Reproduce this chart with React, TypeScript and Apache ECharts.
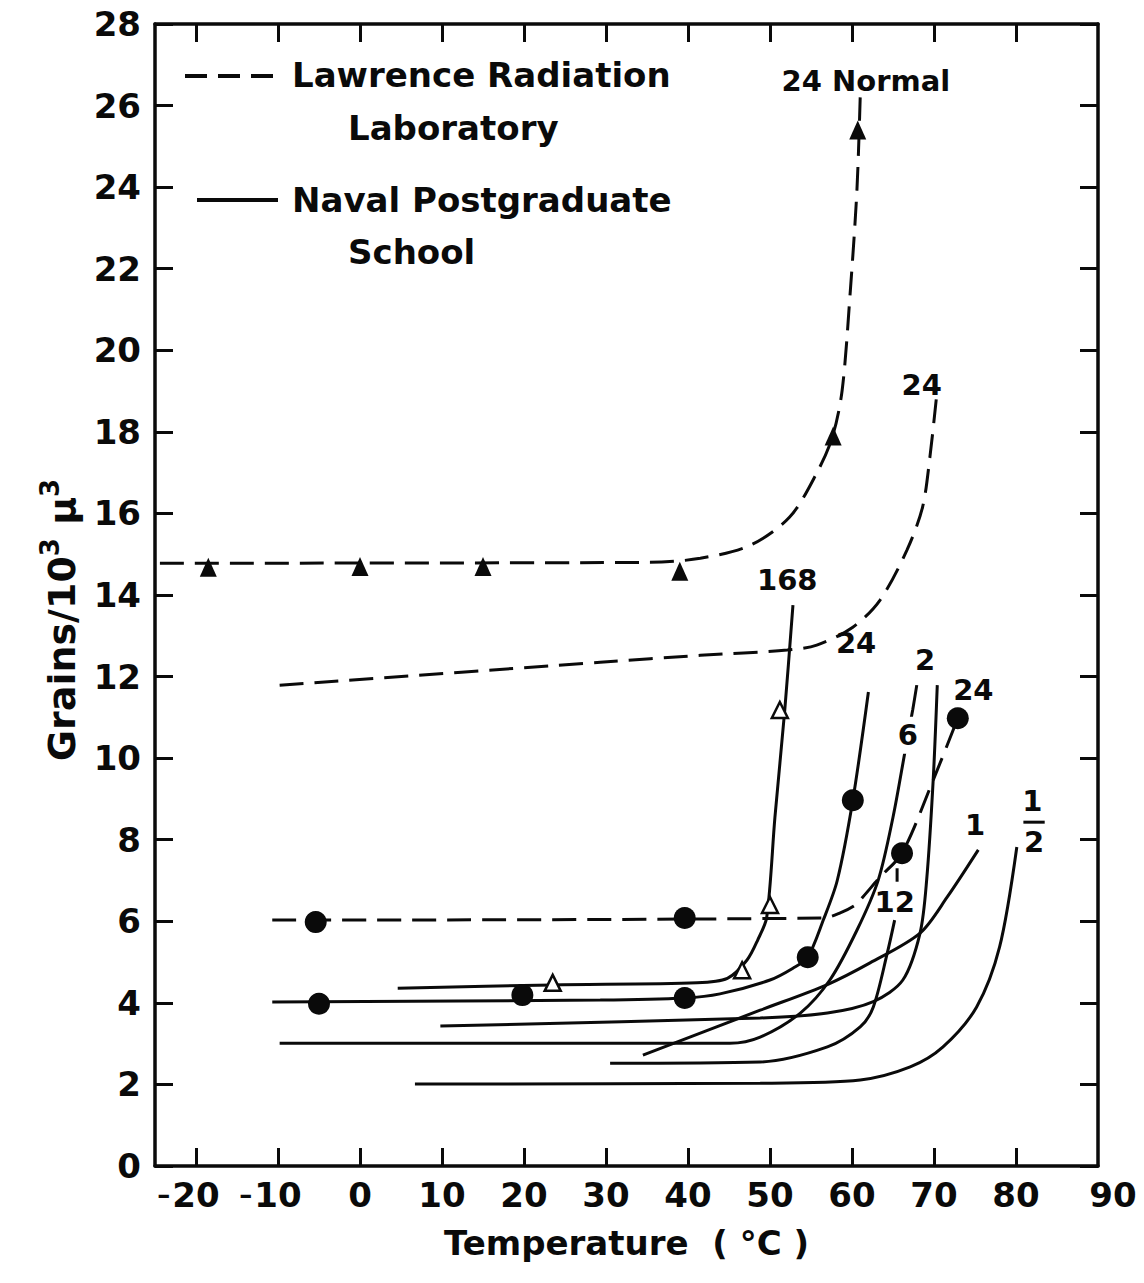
import React, { useEffect, useRef } from "react";
import * as echarts from "echarts";

const FONT = "DejaVu Sans";
const INK = "#0a0a0a";

// Axis ticks / labels
const xTickValues = [-20, -10, 0, 10, 20, 30, 40, 50, 60, 70, 80];
const xLabelValues = [-20, -10, 0, 10, 20, 30, 40, 50, 60, 70, 80, 90];

// Lawrence Radiation Laboratory (dashed)
const lrlNormalCurve = [[-24.4, 14.78], [35.4, 14.8], [41.5, 14.9], [47.6, 15.22], [52.4, 15.91], [55.7, 16.99], [57.6, 17.87], [58.8, 19.02], [59.8, 21.47], [60.6, 23.92], [61.0, 26.2]];
const lrlNormalPoints = [[-18.5, 14.68], [0, 14.7], [15, 14.7], [39, 14.58], [57.7, 17.9], [60.7, 25.4]];
const lrl24Curve = [[-9.8, 11.79], [29.3, 12.35], [41.5, 12.52], [52.1, 12.65], [55.7, 12.77], [60.1, 13.21], [63.4, 13.87], [66.7, 15.1], [68.6, 16.15], [69.5, 17.38], [70.3, 18.85]];
const lrlCircleCurve = [[-10.7, 6.03], [56.5, 6.08], [58.5, 6.2], [60.4, 6.4], [61.3, 6.59], [63.4, 7.08], [66.1, 7.67], [69.9, 9.46], [72.9, 10.98]];
const lrlCirclePoints = [[-5.4, 5.98], [39.6, 6.08], [66.1, 7.67], [72.9, 10.98]];

// Naval Postgraduate School (solid)
const nps168Curve = [[4.6, 4.36], [23.5, 4.44], [41.1, 4.49], [44.8, 4.6], [47.2, 5.05], [48.5, 5.54], [49.6, 6.1], [50.6, 8.55], [51.8, 11.18], [52.8, 13.75]];
const nps168Points = [[23.5, 4.49], [46.6, 4.8], [50.0, 6.4], [51.2, 11.18]];
const nps24Curve = [[-10.7, 4.02], [29.3, 4.07], [39.6, 4.12], [43.9, 4.22], [50.0, 4.56], [52.8, 4.85], [54.6, 5.12], [56.5, 6.03], [58.2, 7.0], [60.1, 8.97], [62.0, 11.62]];
const nps24Points = [[-5.0, 3.98], [19.8, 4.19], [39.6, 4.12], [54.6, 5.12], [60.1, 8.97]];
const nps2Curve = [[9.8, 3.43], [48.8, 3.63], [57.0, 3.75], [62.6, 4.03], [66.2, 4.56], [68.3, 5.71], [69.1, 7.0], [69.9, 9.46], [70.4, 11.79]];
const nps6Curve = [[-9.8, 3.01], [45.1, 3.01], [48.8, 3.16], [53.7, 3.75], [57.3, 4.56], [60.6, 5.78], [63.2, 7.01], [65.0, 8.55], [66.5, 10.2], [67.4, 11.18], [67.9, 11.79]];
const nps1Curve = [[34.5, 2.72], [48.8, 3.82], [57.0, 4.45], [62.2, 4.98], [68.3, 5.71], [71.6, 6.59], [75.4, 7.75]];
const nps12Curve = [[30.5, 2.52], [48.8, 2.55], [57.0, 2.92], [61.0, 3.41], [62.6, 3.9], [64.3, 5.22], [65.2, 6.03]];
const npsHalfCurve = [[6.7, 2.01], [48.8, 2.03], [61.0, 2.11], [67.1, 2.43], [71.1, 2.92], [75.2, 3.9], [78.0, 5.37], [80.1, 7.82]];
const label12Leader = [[65.5, 7.3], [65.5, 6.97]];
const halfBar = [[80.9, 8.43], [83.5, 8.43]];

// Curve labels (hours)
const curveLabelTexts = ["24 Normal", "24", "168", "24", "2", "6", "24", "12", "1", "1", "2"];
const curveLabelPos = [[61.7, 26.6], [68.5, 19.14], [52.1, 14.36], [60.5, 12.82], [68.9, 12.4], [66.8, 10.56], [74.8, 11.67], [65.2, 6.47], [75.0, 8.36], [82.0, 8.95], [82.2, 7.94]];

const lineSeries = (data: number[][], dashed: boolean) => ({
  type: "line",
  data,
  symbol: "none",
  smooth: 0.3,
  lineStyle: { color: INK, width: 3, type: dashed ? [24, 11] : "solid" },
  z: 3,
  silent: true,
});

export default function App() {
  const ref = useRef<HTMLDivElement>(null);
  useEffect(() => {
    document.body.style.margin = "0";
    document.body.style.overflow = "hidden";
    const chart = echarts.init(ref.current!, null, { renderer: "svg" });
    const tickLabelStyle = { fontFamily: FONT, fontWeight: "bold", fontSize: 34, color: INK };
    const axisLine = { show: true, onZero: false, lineStyle: { color: INK, width: 3.5 } };
    const axisTick = { show: true, inside: true, length: 18, lineStyle: { color: INK, width: 3 } };
    const option: any = {
      animation: false,
      backgroundColor: "#ffffff",
      grid: { left: 155, right: 46, top: 24, bottom: 117, containLabel: false, outerBoundsMode: "none" },
      xAxis: [
        {
          type: "value", min: -25, max: 90, position: "bottom",
          axisLine, splitLine: { show: false },
          axisTick: { ...axisTick, customValues: xTickValues },
          axisLabel: {
            ...tickLabelStyle, margin: 12, customValues: xLabelValues,
            hideOverlap: false, showMinLabel: true, showMaxLabel: true,
            formatter: (v: number) => {
              if (v < 0) return `{m|\u2013}{n|${Math.abs(v)}}{p| }`;
              if (v === 90) return `{q| }{n|${v}}`;
              return `{n|${v}}`;
            },
            rich: {
              n: { ...tickLabelStyle },
              m: { ...tickLabelStyle, fontSize: 26, width: 15, align: "left" },
              p: { ...tickLabelStyle, width: 15 },
              q: { ...tickLabelStyle, width: 30 },
            },
          },
          name: "Temperature  ( °C )", nameLocation: "middle", nameGap: 60,
          nameTextStyle: { ...tickLabelStyle },
        },
        {
          type: "value", min: -25, max: 90, position: "top",
          axisLine, splitLine: { show: false },
          axisTick: { ...axisTick, customValues: xTickValues },
          axisLabel: { show: false },
        },
      ],
      yAxis: [
        {
          type: "value", min: 0, max: 28, interval: 2, position: "left",
          axisLine, splitLine: { show: false }, axisTick,
          axisLabel: { ...tickLabelStyle, margin: 14 },
        },
        {
          type: "value", min: 0, max: 28, interval: 2, position: "right",
          axisLine, splitLine: { show: false }, axisTick,
          axisLabel: { show: false },
        },
      ],
      graphic: [
        { type: "line", shape: { x1: 185, y1: 76, x2: 281, y2: 76 }, style: { stroke: INK, lineWidth: 4, lineDash: [22, 11] } },
        { type: "text", x: 292, y: 75, style: { text: "Lawrence Radiation", font: `bold 34px "${FONT}"`, fill: INK, verticalAlign: "middle" } },
        { type: "text", x: 348, y: 128, style: { text: "Laboratory", font: `bold 34px "${FONT}"`, fill: INK, verticalAlign: "middle" } },
        { type: "line", shape: { x1: 197, y1: 200, x2: 278, y2: 200 }, style: { stroke: INK, lineWidth: 4 } },
        { type: "text", x: 292, y: 200, style: { text: "Naval Postgraduate", font: `bold 34px "${FONT}"`, fill: INK, verticalAlign: "middle" } },
        { type: "text", x: 348, y: 252, style: { text: "School", font: `bold 34px "${FONT}"`, fill: INK, verticalAlign: "middle" } },
        {
          type: "text", x: 62, y: 620, rotation: Math.PI / 2,
          style: {
            text: "{t|Grains/10}{s|3}{t| \u03bc}{s|3}",
            align: "center", verticalAlign: "middle",
            rich: {
              t: { fontFamily: FONT, fontWeight: "bold", fontSize: 38, fill: INK, lineHeight: 50 },
              s: { fontFamily: FONT, fontWeight: "bold", fontSize: 26, fill: INK, lineHeight: 26, verticalAlign: "top" },
            },
          },
        },
      ],
      series: [
        lineSeries(lrlNormalCurve, true),
        lineSeries(lrl24Curve, true),
        lineSeries(lrlCircleCurve, true),
        lineSeries(nps168Curve, false),
        lineSeries(nps24Curve, false),
        lineSeries(nps2Curve, false),
        lineSeries(nps6Curve, false),
        lineSeries(nps1Curve, false),
        lineSeries(nps12Curve, false),
        lineSeries(npsHalfCurve, false),
        { ...lineSeries(label12Leader, false), smooth: false },
        { ...lineSeries(halfBar, false), smooth: false },
        {
          type: "scatter", data: lrlNormalPoints, symbol: "triangle", symbolSize: [17, 19],
          itemStyle: { color: INK, opacity: 1 }, z: 5, silent: true,
        },
        {
          type: "scatter", data: [...lrlCirclePoints, ...nps24Points], symbol: "circle", symbolSize: 22,
          itemStyle: { color: INK, opacity: 1 }, z: 5, silent: true,
        },
        {
          type: "scatter", data: nps168Points, symbol: "triangle", symbolSize: [16, 16],
          itemStyle: { color: "#ffffff", borderColor: INK, borderWidth: 2.5, opacity: 1 }, z: 6, silent: true,
        },
        {
          type: "scatter", symbolSize: 0, z: 8, silent: true,
          itemStyle: { opacity: 1 },
          data: curveLabelPos.map((p, i) => ({
            value: p,
            name: curveLabelTexts[i],
            label: curveLabelTexts[i] === "6" ? { backgroundColor: "#ffffff", padding: [4, 2] } : undefined,
          })),
          label: {
            show: true, position: "inside", formatter: (p: any) => p.name,
            fontFamily: FONT, fontWeight: "bold", fontSize: 29, color: INK, opacity: 1,
          },
        },
      ],
    };
    chart.setOption(option);
    return () => chart.dispose();
  }, []);
  return <div ref={ref} style={{ width: 1144, height: 1283 }} />;
}
